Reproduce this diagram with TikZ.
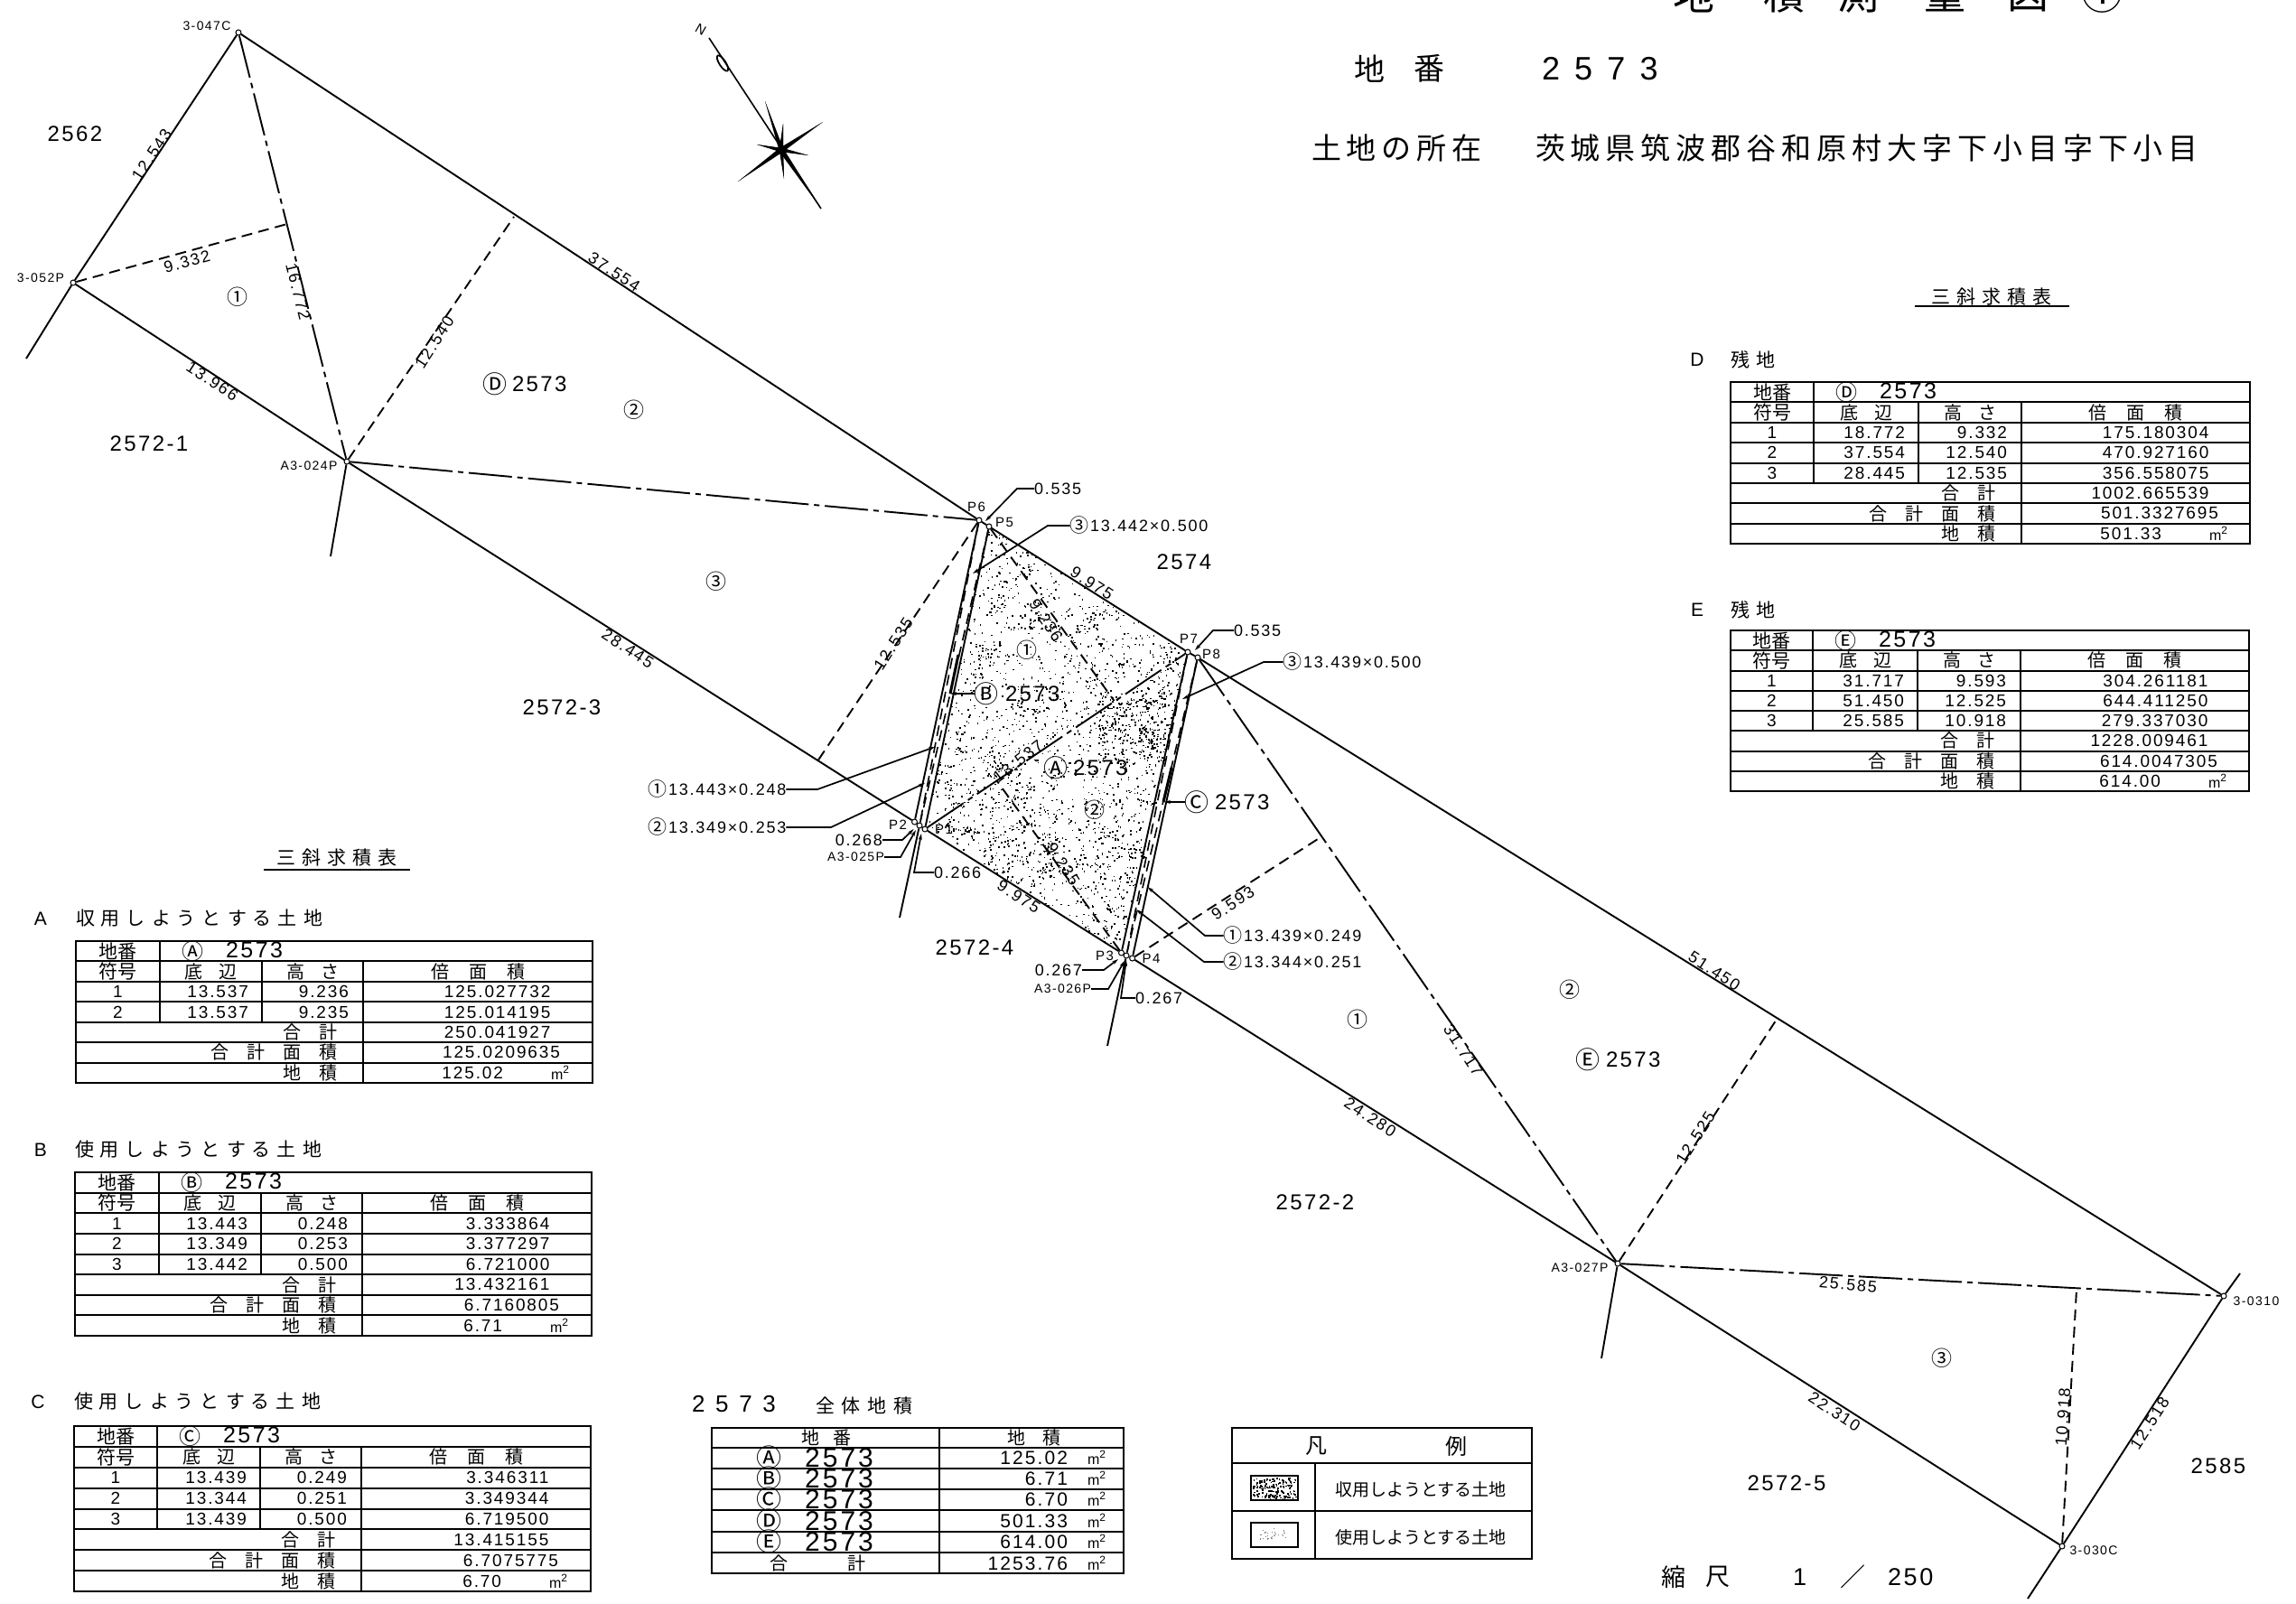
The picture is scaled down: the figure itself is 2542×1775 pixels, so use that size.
\documentclass[tikz,border=0pt]{standalone}
\usepackage{fontspec}
\usetikzlibrary{arrows.meta,calc,shapes.geometric}
\newfontfamily\jpf{Noto Sans CJK JP}
\newfontfamily\jpw[LetterSpace=18]{Noto Sans CJK JP}
\newfontfamily\latf[LetterSpace=10]{Liberation Sans}
\newfontfamily\latw[LetterSpace=45]{Liberation Sans}
\tikzset{
  base/.style={inner sep=0,outer sep=0},
  jp/.style={base,font=\jpf\fontsize{#1}{#1}\selectfont},
  jpwide/.style={base,font=\jpw\fontsize{#1}{#1}\selectfont},
  lat/.style={base,font=\latf\fontsize{#1}{#1}\selectfont},
  latwide/.style={base,font=\latw\fontsize{#1}{#1}\selectfont},
  sym/.style={base,font=\jpf\fontsize{#1}{#1}\selectfont},
  dim/.style={lat=18},
  parcel/.style={lat=24},
  stn/.style={lat=14},
  pt/.style={lat=15},
  station/.style={draw,circle,fill=white,inner sep=0,minimum size=6pt,line width=1pt},
  bound/.style={line width=1.9pt},
  chain/.style={line width=1.9pt,dash pattern=on 48pt off 6pt on 6pt off 6pt},
  perp/.style={line width=1.9pt,dash pattern=on 12pt off 7pt},
  lead/.style={line width=1.7pt,-{Stealth[length=7pt,width=4pt]}},
  tline/.style={line width=2pt},
}
\newcommand\setgrid[8]{\def\xa{#1}\def\xb{#2}\def\xc{#3}\def\xd{#4}\def\xe{#5}\def\yt{#6}\def\yb{#7}\def\mk{#8}}
\newcommand\msq{m\raisebox{7pt}{\fontsize{12}{12}\selectfont 2}}
\newcommand\areatable[6]{%
  \pgfmathsetmacro\rh{(\yb-\yt)/(#2+5)}
  \pgfmathtruncatemacro\nl{#2+4}
  \draw[tline] (\xa,\yt) rectangle (\xe,\yb);
  \foreach \k in {1,...,\nl}{\draw[tline] (\xa,{\yt+\k*\rh}) -- (\xe,{\yt+\k*\rh});}
  \draw[tline] (\xb,\yt) -- (\xb,{\yt+(#2+2)*\rh});
  \draw[tline] (\xc,{\yt+\rh}) -- (\xc,{\yt+(#2+2)*\rh});
  \draw[tline] (\xd,{\yt+\rh}) -- (\xd,\yb);
  \node[jp=21] (#1-ban) at ({(\xa+\xb)/2},{\yt+.5*\rh}) {地番};
  \node[sym=24] (#1-mk) at ({\xb+36},{\yt+.5*\rh}) {\mk};
  \node[lat=25,anchor=west] (#1-no) at ({\xb+73},{\yt+.45*\rh}) {2573};
  \node[jp=21] (#1-fu) at ({(\xa+\xb)/2},{\yt+1.5*\rh}) {符号};
  \node[jp=20] (#1-te) at ({(\xb+\xc)/2},{\yt+1.5*\rh}) {底\hspace{18pt}辺};
  \node[jp=20] (#1-ta) at ({(\xc+\xd)/2},{\yt+1.5*\rh}) {高\hspace{18pt}さ};
  \node[jp=20] (#1-ba) at ({(\xd+\xe)/2},{\yt+1.5*\rh}) {倍\hspace{22pt}面\hspace{22pt}積};
  \foreach \ca/\cb/\cc [count=\i] in {#3}{
    \node[lat=19] (#1-n\i) at ({(\xa+\xb)/2},{\yt+(\i+1.5)*\rh}) {\i};
    \node[lat=19,anchor=east] (#1-a\i) at ({\xc-15},{\yt+(\i+1.5)*\rh}) {\ca};
    \node[lat=19,anchor=east] (#1-b\i) at ({\xd-16},{\yt+(\i+1.5)*\rh}) {\cb};
    \node[lat=19,anchor=east] (#1-c\i) at ({\xd+218},{\yt+(\i+1.5)*\rh}) {\cc\phantom{0}};
  }
  \node[jp=20,anchor=east] (#1-l1) at ({\xd-29},{\yt+(#2+2.5)*\rh}) {合\hspace{20pt}計};
  \node[jp=20,anchor=east] (#1-l2) at ({\xd-29},{\yt+(#2+3.5)*\rh}) {合\hspace{20pt}計\hspace{20pt}面\hspace{20pt}積};
  \node[jp=20,anchor=east] (#1-l3) at ({\xd-29},{\yt+(#2+4.5)*\rh}) {地\hspace{20pt}積};
  \node[lat=19,anchor=east] (#1-v1) at ({\xd+218},{\yt+(#2+2.5)*\rh}) {#4\phantom{0}};
  \node[lat=19,anchor=east] (#1-v2) at ({\xd+218},{\yt+(#2+3.5)*\rh}) {#5};
  \node[lat=19,anchor=east] (#1-v3) at ({\xd+155},{\yt+(#2+4.5)*\rh}) {#6};
  \node[lat=16,anchor=center] (#1-m) at ({\xd+218},{\yt+(#2+4.5)*\rh}) {\msq};
}
\begin{document}
\begin{tikzpicture}[x=1pt,y=-1pt]
\useasboundingbox (0,0) rectangle (2542,1775);
\fill[white] (0,0) rectangle (2542,1775);

% stipple of the parcel taken
\pgfmathsetseed{2573}
\foreach \i in {1,...,1500}{
  \pgfmathsetmacro\u{rnd}\pgfmathsetmacro\v{rnd}
  \pgfmathsetmacro\px{(1-\v)*((1-\u)*1024+\u*1241.5)+\v*((1-\u)*1095+\u*1315)}
  \pgfmathsetmacro\py{(1-\v)*((1-\u)*918+\u*1055)+\v*((1-\u)*583+\u*722)}
  \fill (\px,\py) rectangle ++(1.5,1.5);
}
\foreach \i in {1,...,70}{
  \pgfmathsetmacro\u{rnd}\pgfmathsetmacro\v{rnd}
  \pgfmathsetmacro\cx{(1-\v)*((1-\u)*1030+\u*1236)+\v*((1-\u)*1098+\u*1305)}
  \pgfmathsetmacro\cy{(1-\v)*((1-\u)*918+\u*1050)+\v*((1-\u)*595+\u*730)}
  \foreach \j in {1,...,9}{
    \pgfmathsetmacro\px{\cx+rnd*20-10}\pgfmathsetmacro\py{\cy+rnd*20-10}
    \fill (\px,\py) rectangle ++(1.7,1.7);
  }
}
\foreach \i in {1,...,220}{
  \pgfmathsetmacro\px{1215+rnd*75}\pgfmathsetmacro\py{765+rnd*80}
  \fill (\px,\py) rectangle ++(1.7,1.7);
}

% stations
\node[station] (c47) at (264,36) {};
\node[station] (p52) at (81,313) {};
\node[station] (a24) at (384,511) {};
\node[station] (a27) at (1791,1399) {};
\node[station] (s31) at (2462,1435) {};
\node[station] (s30) at (2283,1712) {};
\node[station] (P1) at (1024,918) {};
\node[station] (P2) at (1012.5,910) {};
\node[station] (a25) at (1018,914) {};
\node[station] (P3) at (1241.5,1055) {};
\node[station] (P4) at (1253.6,1061) {};
\node[station] (a26) at (1247,1058) {};
\node[station] (P5) at (1095,583) {};
\node[station] (P6) at (1084,576) {};
\node[station] (P7) at (1315,722) {};
\node[station] (P8) at (1326,728) {};

% free ends and feet
\coordinate (x52) at (29,397);
\coordinate (x24) at (366,616);
\coordinate (x25) at (996,1016);
\coordinate (x26) at (1226,1158);
\coordinate (x27) at (1773,1504);
\coordinate (x31) at (2480,1410);
\coordinate (x30) at (2245,1770);
\coordinate (f933) at (318,248);
\coordinate (f1254) at (569,240);
\coordinate (f1253) at (905,843);
\coordinate (f9236) at (1233.5,776);
\coordinate (f9235) at (1104,865);
\coordinate (f959) at (1459,929);
\coordinate (f1252) at (1968,1127);
\coordinate (f109) at (2299,1428);

% boundaries
\draw[bound] (c47) -- (p52) -- (x52);
\draw[bound] (c47) -- (P6) -- (P5) -- (P7) -- (P8) -- (s31);
\draw[bound] (p52) -- (a24) -- (P2) -- (a25) -- (P1) -- (P3) -- (a26) -- (P4) -- (a27) -- (s30);
\draw[bound] (a24) -- (x24);
\draw[bound] (a27) -- (x27);
\draw[bound] (x31) -- (s31) -- (s30) -- (x30);
\draw[bound] (P6) -- (P2);
\draw[bound] (P5) -- (P1);
\draw[bound] (P7) -- (P3);
\draw[bound] (P8) -- (P4);
\draw[bound] (a25) -- (x25);
\draw[bound] (a26) -- (x26);

% strips
\draw[perp,line width=1.6pt] (P6) -- (a25);
\draw[perp,line width=1.6pt] (P5) -- (a25);
\draw[perp,line width=1.6pt] (P7) -- (a26);
\draw[perp,line width=1.6pt] (P8) -- (a26);
\draw[line width=3pt] (1061,725) -- (1052,768);
\draw[line width=3pt] (1297,850) -- (1288,888);

% chains
\draw[chain] (c47) -- (a24);
\draw[chain] (a24) -- (P6);
\draw[chain] (P1) -- (P7);
\draw[chain] (P8) -- (a27);
\draw[chain] (a27) -- (s31);

% perpendiculars
\draw[perp] (p52) -- (f933);
\draw[perp] (a24) -- (f1254);
\draw[perp] (P6) -- (f1253);
\draw[perp] (P5) -- (f9236);
\draw[perp] (P3) -- (f9235);
\draw[perp] (P4) -- (f959);
\draw[perp] (a27) -- (f1252);
\draw[perp] (s30) -- (f109);

% station labels
\node[stn] (l47) at (229,29) {3-047C};
\node[stn] (l52) at (45,308) {3-052P};
\node[stn] (l24) at (342,516) {A3-024P};
\node[stn] (l27) at (1749,1404) {A3-027P};
\node[stn] (l31) at (2498,1441) {3-0310};
\node[stn] (l30) at (2318,1717) {3-030C};
\node[pt] (tP1) at (1045,918) {P1};
\node[pt] (tP2) at (994,913) {P2};
\node[pt] (tP3) at (1223,1058) {P3};
\node[pt] (tP4) at (1274.5,1061) {P4};
\node[pt] (tP5) at (1112,578) {P5};
\node[pt] (tP6) at (1081,561) {P6};
\node[pt] (tP7) at (1316,707) {P7};
\node[pt] (tP8) at (1341,724) {P8};

% lot numbers
\node[parcel] (n2562) at (83,148) {2562};
\node[parcel] (n25721) at (165,491) {2572-1};
\node[parcel] (n25723) at (622,783) {2572-3};
\node[parcel] (n25722) at (1456,1331) {2572-2};
\node[parcel] (n25725) at (1978,1642) {2572-5};
\node[parcel] (n2585) at (2456,1623) {2585};
\node[parcel] (n2574) at (1311,622) {2574};
\node[parcel] (n25724) at (1079,1049) {2572-4};

% dimensions
\node[dim,rotate=56] (d1) at (168,171) {12.543};
\node[dim,rotate=15] (d2) at (207,290) {9.332};
\node[dim,rotate=-76] (d3) at (330,323) {16.772};
\node[dim,rotate=-33] (d4) at (235,422) {13.966};
\node[dim,rotate=-33] (d5) at (680,301) {37.554};
\node[dim,rotate=57] (d6) at (481,379) {12.540};
\node[dim,rotate=-33] (d7) at (695,718) {28.445};
\node[dim,rotate=57] (d8) at (989,713) {12.535};
\node[dim,rotate=-33] (d9) at (1209,646) {9.975};
\node[dim,rotate=-57] (d10) at (1158,687) {9.236};
\node[dim,rotate=37] (d11) at (1127,843) {13.537};
\node[dim,rotate=-57] (d12) at (1177,957) {9.235};
\node[dim,rotate=-33] (d13) at (1128,993) {9.975};
\node[dim,rotate=33] (d14) at (1365,1000) {9.593};
\node[dim,rotate=-57] (d15) at (1620,1163) {31.717};
\node[dim,rotate=-33] (d16) at (1898,1075) {51.450};
\node[dim,rotate=-33] (d17) at (1517,1237) {24.280};
\node[dim,rotate=57] (d18) at (1877,1260) {12.525};
\node[dim,rotate=-5] (d19) at (2046,1422) {25.585};
\node[dim,rotate=-33] (d20) at (2031,1563) {22.310};
\node[dim,rotate=86] (d21) at (2284,1569) {10.918};
\node[dim,rotate=57] (d22) at (2380,1576) {12.518};

% triangle numbers and parcels
\node[sym=23] (c1) at (263,329) {①};
\node[sym=23] (c2) at (702,454) {②};
\node[sym=23] (c3) at (793,644) {③};
\node[sym=23] (c4) at (1137,720) {①};
\node[sym=23] (c5) at (1212,897) {②};
\node[sym=23] (c6) at (1503,1129) {①};
\node[sym=23] (c7) at (1738,1096) {②};
\node[sym=23] (c8) at (2150,1504) {③};
\node[sym=27] (pD) at (548,425) {Ⓓ};
\node[parcel,anchor=west] (tD) at (567,425) {2573};
\node[sym=27] (pE) at (1758,1173) {Ⓔ};
\node[parcel,anchor=west] (tE) at (1778,1173) {2573};
\node[sym=27] (pA) at (1169,850) {Ⓐ};
\node[parcel,anchor=west] (tA) at (1188,850) {2573};
\node[sym=27] (pB) at (1092,768) {Ⓑ};
\node[parcel,anchor=west] (tB) at (1113,768) {2573};
\node[sym=27] (pC) at (1325,888) {Ⓒ};
\node[parcel,anchor=west] (tC) at (1345,888) {2573};
\draw[lead] (pB.west) -- (1052,768);
\draw[lead] (pC.west) -- (1289,888);

% leaders
\node[dim,anchor=west] (r1) at (1145,541) {0.535};
\draw[lead] (r1.west) -- (1126,541) -- (1091,577);
\node[dim,anchor=west] (r2) at (1366,698) {0.535};
\draw[lead] (r2.west) -- (1343,698) -- (1323,720);
\node[sym=21] (r3c) at (1195,582) {③};
\node[dim,anchor=west] (r3) at (1207,582) {13.442×0.500};
\draw[lead] (r3c.west) -- (1160,582) -- (1077,635);
\node[sym=21] (r4c) at (1431,733) {③};
\node[dim,anchor=west] (r4) at (1443,733) {13.439×0.500};
\draw[lead] (r4c.west) -- (1399,733) -- (1309,774);
\node[sym=21] (r5c) at (1365,1036) {①};
\node[dim,anchor=west] (r5) at (1377,1036) {13.439×0.249};
\draw[lead] (r5c.west) -- (1334,1036) -- (1270.5,982);
\node[sym=21] (r6c) at (1365,1065) {②};
\node[dim,anchor=west] (r6) at (1377,1065) {13.344×0.251};
\draw[lead] (r6c.west) -- (1333,1065) -- (1258,1007);
\node[sym=21] (r7c) at (728,874) {①};
\node[dim,anchor=west] (r7) at (740,874) {13.443×0.248};
\draw[lead] (r7.east) -- (905,874) -- (1035,827);
\node[sym=21] (r8c) at (728,916) {②};
\node[dim,anchor=west] (r8) at (740,916) {13.349×0.253};
\draw[lead] (r8.east) -- (920,916) -- (1024,867);
\node[dim,anchor=east] (r9) at (977,930) {0.268};
\draw[lead] (r9.east) -- (999,930) -- (1011.6,918);
\node[stn,anchor=east] (r10) at (979,949) {A3-025P};
\draw[lead] (r10.east) -- (997,949) -- (1014,919);
\node[dim,anchor=west] (r11) at (1034,966) {0.266};
\draw[lead] (r11.west) -- (1012,966) -- (1020,923);
\node[dim,anchor=east] (r12) at (1198,1074) {0.267};
\draw[lead] (r12.east) -- (1222,1074) -- (1238,1062);
\node[stn,anchor=east] (r13) at (1208,1095) {A3-026P};
\draw[lead] (r13.east) -- (1227,1095) -- (1245,1064);
\node[dim,anchor=west] (r14) at (1257,1105) {0.267};
\draw[lead] (r14.west) -- (1241,1105) -- (1247,1063);

% north mark
\node[lat=15,rotate=-30] (north) at (776,33) {N};
\coordinate (na) at (785,42);
\coordinate (nb) at (909,231);
\draw[line width=1.6pt] (na) -- (nb);
\node[draw,ellipse,line width=1.8pt,minimum width=7pt,minimum height=20pt,inner sep=0,rotate=33] (neye) at (800,70) {};
\foreach \tx/\ty in {909/231,847/112,911/135,817/201,867/137,868/198,838/160,895/172}{
  \fill (\tx,\ty) -- (863,164) -- (867,168) -- cycle;
  \fill (\tx,\ty) -- (867,164) -- (863,168) -- cycle;
}

% titles
\foreach \ch/\cx [count=\i] in {地/1875,積/1975,測/2057,量/2153,図/2245}{
  \node[jp=46] (ti\i) at (\cx,-7) {\ch};
}
\node[sym=46] (ti6) at (2327,-7) {①};
\node[jp=34] (h1) at (1516,76) {地};
\node[jp=34] (h2) at (1582,76) {番};
\node[latwide=36,anchor=west] (h3) at (1707,76) {2573};
\node[jpwide=33,anchor=west] (h4) at (1452,164) {土地の所在};
\node[jpwide=33,anchor=west] (h5) at (1700,164) {茨城県筑波郡谷和原村大字下小目字下小目};
\node[jp=27] (h6) at (1853,1746) {縮};
\node[jp=27] (h7) at (1902,1746) {尺};
\node[lat=27,anchor=west] (h8) at (1985,1746) {1};
\node[jp=28] (h9) at (2051,1746) {／};
\node[lat=27,anchor=west] (h10) at (2090,1746) {250};

% heading left
\node[jp=21] (tl) at (373,950) {三\hspace{7pt}斜\hspace{7pt}求\hspace{7pt}積\hspace{7pt}表};
\coordinate (ua) at (292,963);\coordinate (ub) at (454,963);
\draw[line width=2.4pt] (ua) -- (ub);
\node[jp=21] (tr) at (2205,329) {三\hspace{7pt}斜\hspace{7pt}求\hspace{7pt}積\hspace{7pt}表};
\coordinate (uc) at (2120,339);\coordinate (ud) at (2291,339);
\draw[line width=2.4pt] (uc) -- (ud);

% table A
\node[lat=21] (capA) at (45,1017) {A};
\node[jpwide=21,anchor=west] (sA) at (84,1017) {収\hspace{7pt}用\hspace{7pt}し\hspace{7pt}よ\hspace{7pt}う\hspace{7pt}と\hspace{7pt}す\hspace{7pt}る\hspace{7pt}土\hspace{7pt}地};
\setgrid{84}{177}{290}{402}{656}{1042}{1199}{Ⓐ}
\areatable{A}{2}{13.537/9.236/125.027732,13.537/9.235/125.014195}{250.041927}{125.0209635}{125.02}
% table B
\node[lat=21] (capB) at (45,1273) {B};
\node[jpwide=21,anchor=west] (sB) at (83,1273) {使\hspace{7pt}用\hspace{7pt}し\hspace{7pt}よ\hspace{7pt}う\hspace{7pt}と\hspace{7pt}す\hspace{7pt}る\hspace{7pt}土\hspace{7pt}地};
\setgrid{83}{176}{289}{401}{655}{1298}{1479}{Ⓑ}
\areatable{B}{3}{13.443/0.248/3.333864,13.349/0.253/3.377297,13.442/0.500/6.721000}{13.432161}{6.7160805}{6.71}
% table C
\node[lat=21] (capC) at (42,1552) {C};
\node[jpwide=21,anchor=west] (sC) at (82,1552) {使\hspace{7pt}用\hspace{7pt}し\hspace{7pt}よ\hspace{7pt}う\hspace{7pt}と\hspace{7pt}す\hspace{7pt}る\hspace{7pt}土\hspace{7pt}地};
\setgrid{82}{174}{288}{400}{654}{1579}{1762}{Ⓒ}
\areatable{C}{3}{13.439/0.249/3.346311,13.344/0.251/3.349344,13.439/0.500/6.719500}{13.415155}{6.7075775}{6.70}
% table D
\node[lat=21] (capD) at (1879,398) {D};
\node[jp=21,anchor=west] (sD) at (1916,398) {残\hspace{7pt}地};
\setgrid{1916}{2008}{2124}{2238}{2491}{423}{602}{Ⓓ}
\areatable{D}{3}{18.772/9.332/175.180304,37.554/12.540/470.927160,28.445/12.535/356.558075}{1002.665539}{501.3327695}{501.33}
% table E
\node[lat=21] (capE) at (1879,675) {E};
\node[jp=21,anchor=west] (sE) at (1916,675) {残\hspace{7pt}地};
\setgrid{1916}{2007}{2123}{2237}{2490}{698}{876}{Ⓔ}
\areatable{E}{3}{31.717/9.593/304.261181,51.450/12.525/644.411250,25.585/10.918/279.337030}{1228.009461}{614.0047305}{614.00}

% whole area table
\node[latwide=26,anchor=west] (whn) at (766,1555) {2573};
\node[jp=21,anchor=west] (whj) at (903,1557) {全\hspace{8pt}体\hspace{8pt}地\hspace{8pt}積};
\draw[tline] (788,1581) rectangle (1244,1742);
\draw[tline] (1040,1581) -- (1040,1742);
\foreach \yy in {1603,1626,1649,1672,1696,1719}{\draw[tline] (788,\yy) -- (1244,\yy);}
\node[jp=20] (w1) at (915,1592) {地\hspace{15pt}番};
\node[jp=20] (w2) at (1145,1592) {地\hspace{19pt}積};
\foreach \mm/\vv/\yy [count=\i] in {Ⓐ/125.02/1614,Ⓑ/6.71/1637,Ⓒ/6.70/1660,Ⓓ/501.33/1684,Ⓔ/614.00/1707}{
  \node[sym=28] (wm\i) at (851,\yy) {\mm};
  \node[lat=30] (wn\i) at (929,\yy) {2573};
  \node[lat=21,anchor=east] (wv\i) at (1182,\yy) {\vv};
  \node[lat=16] (wu\i) at (1214,\yy) {\msq};
}
\node[jp=20] (wt) at (905,1731) {合\hspace{66pt}計};
\node[lat=21,anchor=east] (wv6) at (1182,1731) {1253.76};
\node[lat=16] (wu6) at (1214,1731) {\msq};

% legend
\draw[tline] (1364,1581) rectangle (1696,1726);
\draw[tline] (1364,1620) -- (1696,1620);
\draw[tline] (1364,1673) -- (1696,1673);
\draw[tline] (1456,1620) -- (1456,1726);
\node[jp=24] (lg1) at (1457,1601) {凡};
\node[jp=24] (lg2) at (1612,1601) {例};
\draw[line width=1.8pt] (1385,1634) rectangle (1437,1661);
\draw[line width=1.8pt] (1385,1686) rectangle (1437,1713);
\foreach \i in {1,...,150}{
  \pgfmathsetmacro\px{1387+rnd*47}\pgfmathsetmacro\py{1636+rnd*23}
  \fill (\px,\py) rectangle ++(1.7,1.7);
}
\foreach \i in {1,...,25}{
  \pgfmathsetmacro\px{1393+rnd*34}\pgfmathsetmacro\py{1692+rnd*13}
  \fill[gray] (\px,\py) rectangle ++(1.2,1.2);
}
\node[jp=19,anchor=west] (lg3) at (1478,1649) {収用しようとする土地};
\node[jp=19,anchor=west] (lg4) at (1478,1702) {使用しようとする土地};
\end{tikzpicture}
\end{document}
